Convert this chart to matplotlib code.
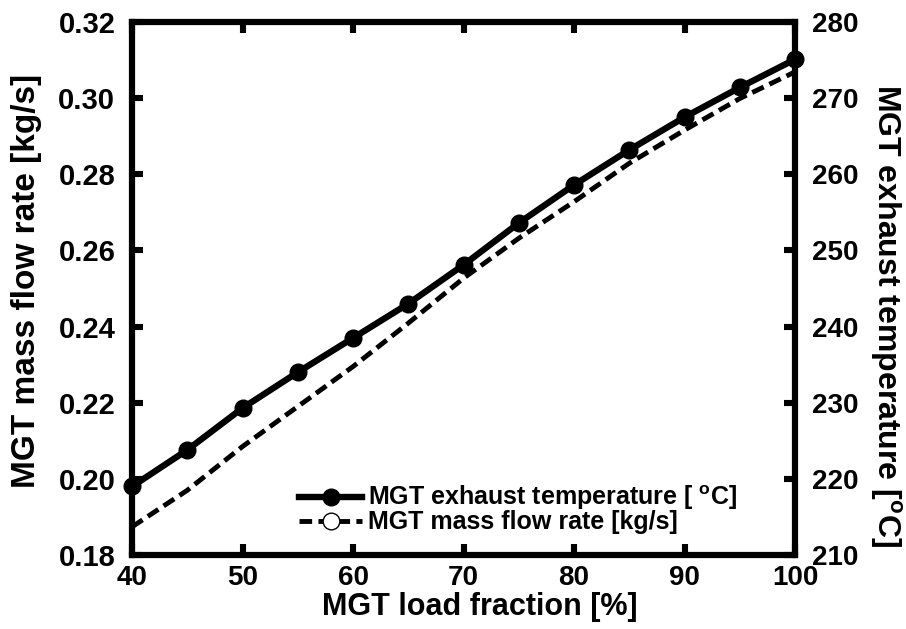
import matplotlib
matplotlib.use("Agg")
import matplotlib.pyplot as plt
from matplotlib.lines import Line2D

plt.rcParams['font.family'] = ['Liberation Sans', 'DejaVu Sans']
plt.rcParams['font.weight'] = 'bold'
plt.rcParams['mathtext.fontset'] = 'custom'
plt.rcParams['mathtext.rm'] = 'Liberation Sans:bold'
plt.rcParams['mathtext.bf'] = 'Liberation Sans:bold'

# MGT part-load performance
load_fraction = [40, 45, 50, 55, 60, 65, 70, 75, 80, 85, 90, 95, 100]
exhaust_temp = [219.0, 223.8, 229.3, 234.0, 238.5, 243.0, 248.1, 253.6,
                258.6, 263.2, 267.5, 271.4, 275.1]
mass_flow = [0.1874, 0.1970, 0.2085, 0.2190, 0.2295, 0.2409, 0.2527,
             0.2632, 0.2728, 0.2829, 0.2916, 0.2999, 0.3069]

x_ticks = [40, 50, 60, 70, 80, 90, 100]
flow_ticks = [0.18, 0.20, 0.22, 0.24, 0.26, 0.28, 0.30, 0.32]
temp_ticks = [210, 220, 230, 240, 250, 260, 270, 280]

fig = plt.figure(figsize=(9.06, 6.29), dpi=100)
ax = fig.add_axes([0.1457, 0.1176, 0.7318, 0.8474])
ax2 = ax.twinx()

dash = (0, (2.6, 1.3))
ax.plot(load_fraction, mass_flow, color='black', lw=3.5, ls=dash,
        clip_on=False, zorder=3)
ax2.plot(load_fraction, exhaust_temp, color='black', lw=4.6, marker='o',
         markersize=12, clip_on=False, zorder=4)

ax.set_xlim(40, 100)
ax.set_ylim(0.18, 0.32)
ax2.set_ylim(210, 280)
ax.set_xticks(x_ticks)
ax.set_yticks(flow_ticks)
ax.set_yticklabels([f"{v:.2f}" for v in flow_ticks])
ax2.set_yticks(temp_ticks)

for a in (ax, ax2):
    for s in a.spines.values():
        s.set_linewidth(4.4)
ax.tick_params(axis='both', direction='in', length=8, width=4.4,
               labelsize=20, top=True, pad=7)
ax.tick_params(axis='y', right=False, labelsize=21, pad=12)
ax2.tick_params(axis='y', direction='in', length=8, width=4.4,
                labelsize=20, pad=12)

ax.set_xlabel('MGT load fraction [%]', fontsize=22, fontweight='bold')
ax.xaxis.set_label_coords(0.525, -0.069)
ax.set_ylabel('MGT mass flow rate [kg/s]', fontsize=24, fontweight='bold',
              va='center')
ax.yaxis.set_label_coords(-0.159, 0.514)
ax2.set_ylabel(r'MGT exhaust temperature [$^{\mathrm{o}}$C]', fontsize=23,
               fontweight='bold', rotation=-90, va='center')
ax2.yaxis.set_label_coords(1.137, 0.45)

handles = [
    Line2D([], [], color='black', lw=4.6, marker='o', markersize=12),
    Line2D([], [], color='black', lw=3.5, ls=dash, marker='o',
           markersize=12, markerfacecolor='white', markeredgecolor='black',
           markeredgewidth=1),
]
labels = [r'MGT exhaust temperature [ $^{\mathrm{o}}$C]',
          'MGT mass flow rate [kg/s]']
ax2.legend(handles, labels, loc='lower left', bbox_to_anchor=(0.226, 0.006),
           frameon=False, fontsize=18, handlelength=2.5, handletextpad=0.25,
           labelspacing=-0.08, borderaxespad=0.3)

fig.savefig('out.png', dpi=100)
